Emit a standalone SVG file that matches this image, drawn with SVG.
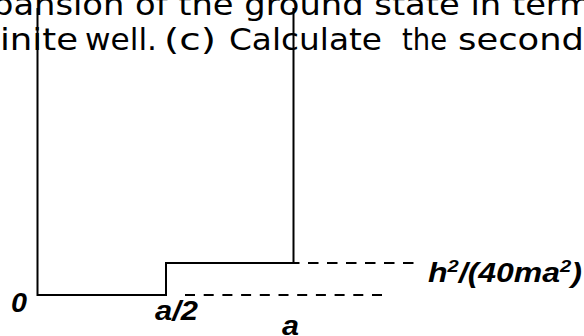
<svg xmlns="http://www.w3.org/2000/svg" width="584" height="336" viewBox="0 0 584 336">
<style>
.bg{fill:#ffffff}
.txt{font-family:"DejaVu Sans","Noto Sans",sans-serif;font-size:31px;fill:#000}
.lbl{font-family:"Liberation Sans",Arial,sans-serif;font-size:27px;font-weight:bold;font-style:italic;fill:#000}
.sup{font-size:17px}
.solid{fill:none;stroke:#000;stroke-width:2}
.dash{fill:none;stroke:#000;stroke-width:2.2}
</style>
<rect class="bg" x="0" y="0" width="584" height="336"/>
<g id="text">
<text class="txt" x="-8" y="15" textLength="600" lengthAdjust="spacingAndGlyphs">pansion of the ground state in term</text>
<text class="txt" y="50"><tspan x="0" textLength="78" lengthAdjust="spacingAndGlyphs">inite</tspan><tspan x="85" textLength="72" lengthAdjust="spacingAndGlyphs">well.</tspan><tspan x="164" textLength="52" lengthAdjust="spacingAndGlyphs">(c)</tspan><tspan x="229" textLength="153" lengthAdjust="spacingAndGlyphs">Calculate</tspan><tspan x="402" textLength="45" lengthAdjust="spacingAndGlyphs">the</tspan><tspan x="458" textLength="126" lengthAdjust="spacingAndGlyphs">second</tspan></text>
</g>
<g id="connectors">
<path id="well" class="solid" d="M37.5 8 V295 H166 V263 H293.5 V8"/>
<path id="level-upper" class="dash" stroke-dasharray="10.5 8.5" d="M194 263 H414"/>
<path id="level-lower" class="dash" stroke-dasharray="10 8.7" d="M185 295 H383"/>
</g>
<g id="label-0"><text class="lbl" x="11" y="312" textLength="16" lengthAdjust="spacingAndGlyphs">0</text></g>
<g id="label-a2"><text class="lbl" x="155" y="320" textLength="43" lengthAdjust="spacingAndGlyphs">a/2</text></g>
<g id="label-a"><text class="lbl" x="282" y="335" textLength="17" lengthAdjust="spacingAndGlyphs">a</text></g>
<g id="label-energy"><text class="lbl" x="428" y="282" textLength="154" lengthAdjust="spacingAndGlyphs">h<tspan class="sup" dy="-10">2</tspan><tspan dy="10">/(40ma</tspan><tspan class="sup" dy="-10">2</tspan><tspan dy="10">)</tspan></text></g>
</svg>
